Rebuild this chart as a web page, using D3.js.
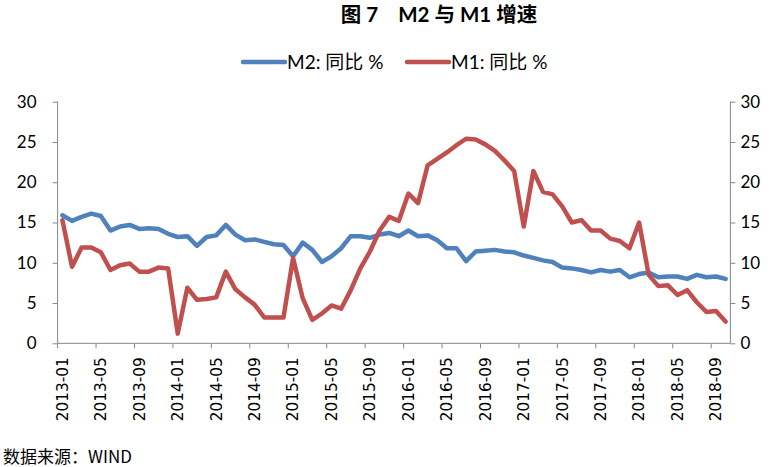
<!DOCTYPE html>
<html><head><meta charset="utf-8">
<script src="https://cdn.jsdelivr.net/npm/d3@7"></script>
<style>
html,body{margin:0;padding:0;background:#fff;}
svg{display:block;}
</style></head>
<body>
<svg id="chart" width="771" height="467"></svg>
<script>
// ---- data ----
const months = [];
for (let y = 2013; y <= 2018; y++) {
  for (let m = 1; m <= 12; m++) {
    if (y === 2018 && m > 10) break;
    months.push(y + "-" + String(m).padStart(2, "0"));
  }
}
const m2 = [15.9,15.2,15.7,16.1,15.8,14.0,14.5,14.7,14.2,14.3,14.2,13.6,
            13.2,13.3,12.1,13.2,13.4,14.7,13.5,12.8,12.9,12.6,12.3,12.2,
            10.8,12.5,11.6,10.1,10.8,11.8,13.3,13.3,13.1,13.5,13.7,13.3,
            14.0,13.3,13.4,12.8,11.8,11.8,10.2,11.4,11.5,11.6,11.4,11.3,
            10.9,10.6,10.3,10.1,9.4,9.3,9.1,8.8,9.1,8.9,9.1,8.2,
            8.6,8.8,8.2,8.3,8.3,8.0,8.5,8.2,8.3,8.0];
const m1 = [15.3,9.5,11.9,11.9,11.3,9.1,9.7,9.9,8.9,8.9,9.4,9.3,
            1.2,6.9,5.4,5.5,5.7,8.9,6.7,5.7,4.8,3.2,3.2,3.2,
            10.6,5.6,2.9,3.7,4.7,4.3,6.6,9.3,11.4,14.0,15.7,15.2,
            18.6,17.4,22.1,22.9,23.7,24.6,25.4,25.3,24.7,23.9,22.7,21.4,
            14.5,21.4,18.8,18.5,17.0,15.0,15.3,14.0,14.0,13.0,12.7,11.8,
            15.0,8.5,7.1,7.2,6.0,6.6,5.1,3.9,4.0,2.7];
const yTicks = [0,5,10,15,20,25,30];
const xTickLabels = months.filter((d,i) => i % 4 === 0);
const seriesNames = ["M2: 同比 %", "M1: 同比 %"];
const colors = ["#4F81BD", "#C0504D"];
const title = "图 7    M2 与 M1 增速";
const source = "数据来源：WIND";

// ---- layout ----
const svg = d3.select("#chart");
const L = 57.6, R = 730.4, T = 101.7, B = 343.3;
const x = d3.scaleBand().domain(months).range([L, R]).padding(0);
const y = d3.scaleLinear().domain([0, 30]).range([B, T]);
const cx = d => x(d) + x.bandwidth() / 2;
const axisColor = "#868686";
const numFont = "Lato, 'Open Sans', sans-serif";

// title
svg.append("text").attr("x", 439).attr("y", 22).attr("text-anchor", "middle")
  .attr("font-family", "Lato, 'Noto Sans CJK SC', sans-serif")
  .attr("font-weight", "bold").attr("font-size", 20.5).attr("fill", "#000")
  .attr("xml:space", "preserve").style("white-space", "pre").text(title);

// legend
const legX = [243, 407];
seriesNames.forEach((n, i) => {
  const g = svg.append("g").attr("transform", `translate(${legX[i]},62)`);
  g.append("line").attr("x1", 0).attr("x2", 42).attr("y1", 0).attr("y2", 0)
    .attr("stroke", colors[i]).attr("stroke-width", 4.5).attr("stroke-linecap", "round");
  g.append("text").attr("x", 44).attr("y", 6.5).attr("font-size", 19)
    .attr("font-family", "Lato, 'Noto Sans CJK SC', sans-serif").attr("fill", "#000").text(n);
});

// left axis
const gl = svg.append("g").attr("transform", `translate(${L},0)`)
  .call(d3.axisLeft(y).tickValues(yTicks).tickSize(5).tickPadding(16).tickFormat(d3.format("d")));
// right axis
const gr = svg.append("g").attr("transform", `translate(${R},0)`)
  .call(d3.axisRight(y).tickValues(yTicks).tickSize(5).tickPadding(5).tickFormat(d3.format("d")));
[gl, gr].forEach(g => {
  g.select(".domain").attr("stroke", axisColor).attr("d", `M0,${T}V${B}`);
  g.selectAll(".tick line").attr("stroke", axisColor);
  g.selectAll(".tick text").attr("font-family", numFont).attr("font-size", 17).attr("fill", "#000");
});

// bottom axis
const gb = svg.append("g").attr("transform", `translate(0,${B})`)
  .call(d3.axisBottom(x).tickValues(xTickLabels).tickSize(0).tickPadding(0));
gb.select(".domain").attr("stroke", axisColor).attr("d", `M${L},0H${R}`);
gb.selectAll(".tick text")
  .attr("font-family", "'DejaVu Sans', Verdana, sans-serif").attr("font-size", 15.3).attr("fill", "#000")
  .attr("transform", "rotate(-90)").attr("text-anchor", "end")
  .attr("x", -14).attr("y", 0).attr("dy", "0.35em");
gb.selectAll(".tickmark").data(xTickLabels).enter().append("line")
  .attr("x1", d => x(d)).attr("x2", d => x(d)).attr("y1", 0).attr("y2", 5)
  .attr("stroke", axisColor);

// lines
const line = d3.line().x((d, i) => cx(months[i])).y(d => y(d));
[m2, m1].forEach((s, i) => {
  svg.append("path").datum(s).attr("d", line).attr("fill", "none")
    .attr("stroke", colors[i]).attr("stroke-width", 4.5)
    .attr("stroke-linejoin", "round").attr("stroke-linecap", "round");
});

// source
svg.append("text").attr("x", 3).attr("y", 463)
  .attr("font-family", "'Noto Sans CJK SC', sans-serif").attr("font-size", 17)
  .attr("fill", "#000").text(source);
</script>
</body></html>
